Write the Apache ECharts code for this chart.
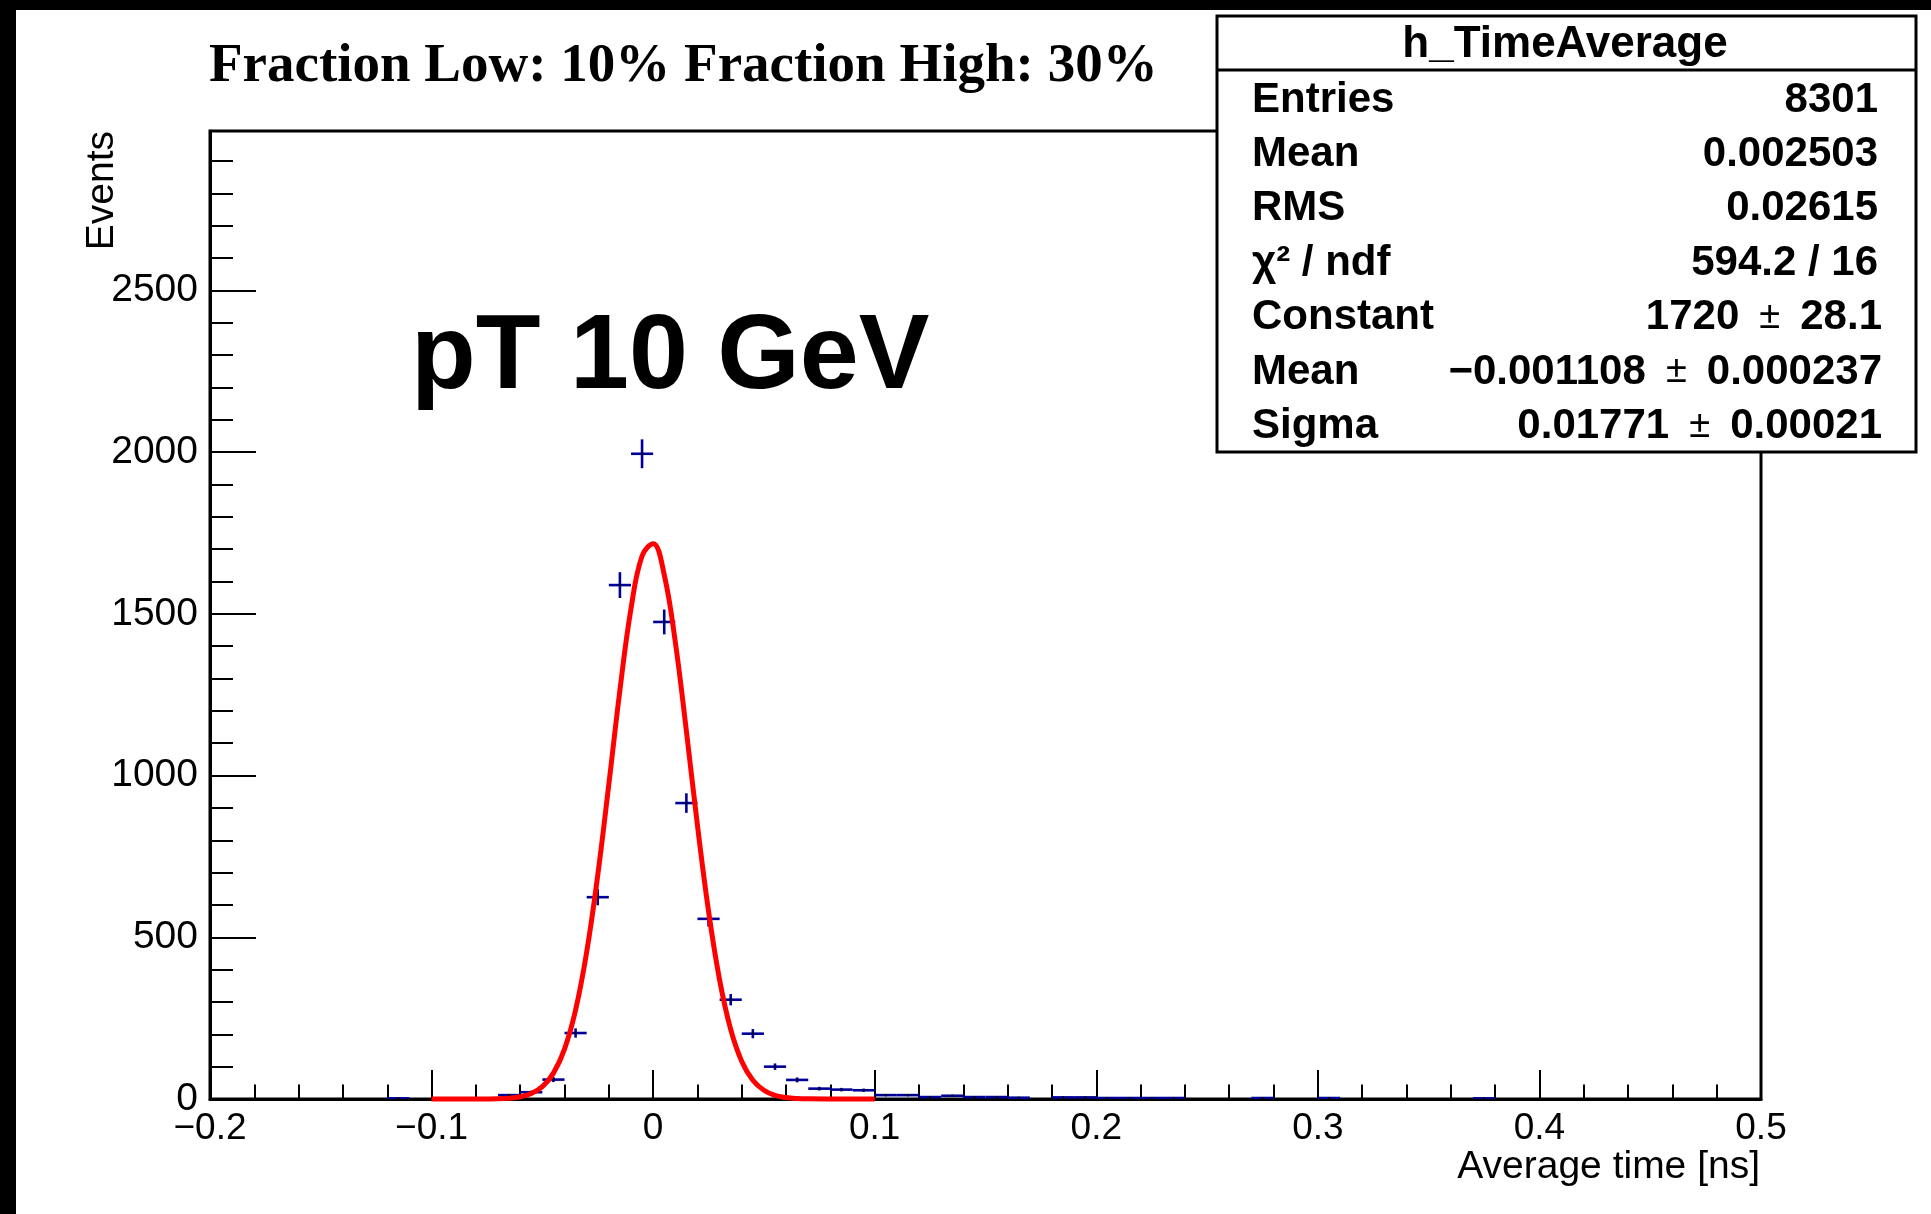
<!DOCTYPE html>
<html>
<head>
<meta charset="utf-8">
<script src="https://cdn.jsdelivr.net/npm/echarts@6/dist/echarts.min.js"></script>
<style>
html,body{margin:0;padding:0;background:#fff;}
#chart{width:1931px;height:1214px;}
</style>
</head>
<body>
<div id="chart"></div>
<script>
// ---- data ----
const binWidth = 0.01;
const binCenters = [-0.115,-0.065,-0.055,-0.045,-0.035,-0.025,-0.015,-0.005,0.005,0.015,0.025,0.035,0.045,0.055,0.065,0.075,0.085,0.095,0.105,0.115,0.125,0.135,0.145,0.155,0.165,0.185,0.195,0.205,0.215,0.225,0.235,0.275,0.305,0.375];
const binCounts  = [2,12,21,60,204,624,1589,1995,1475,915,557,307,202,100,59,32,29,27,12,12,6,10,6,6,4,5,5,3,3,3,3,3,3,2];

const fitX = [-0.1,-0.09,-0.08,-0.07,-0.065,-0.06,-0.055,-0.05,-0.045,-0.04,-0.035,-0.03,-0.025,-0.02,-0.015,-0.01,-0.005,0,0.005,0.01,0.015,0.02,0.025,0.03,0.035,0.04,0.045,0.05,0.055,0.06,0.065,0.07,0.08,0.09,0.1];
const fitY = [0,0,0.1,0.9,2.6,6.8,16.8,38,80,154,275,454,692,973,1264,1516,1679,1717,1621,1413,1138,846,581,368,215,116,58,27,11,4.5,1.6,0.5,0.05,0,0];

const xTickLabels = ['\u22120.2','\u22120.1','0','0.1','0.2','0.3','0.4','0.5'];
const yTickLabels = ['0','500','1000','1500','2000','2500'];

const titleText = 'Fraction Low: 10% Fraction High: 30%';
const bigLabel = 'pT 10 GeV';
const statsTitle = 'h_TimeAverage';
const statsNames = ['Entries','Mean','RMS','\u03c7\u00b2 / ndf','Constant','Mean','Sigma'];
const statsValues = ['8301','0.002503','0.02615','594.2 / 16','1720','\u22120.001108','0.01771'];
const statsErrors = ['','','','','28.1','0.000237','0.00021'];

// ---- chart ----
const chart = echarts.init(document.getElementById('chart'), null, {renderer:'canvas'});
const SANS = '"Liberation Sans", Arial, Helvetica, sans-serif';
const SERIF = '"Liberation Serif", "Times New Roman", serif';
const BLUE = '#000099';

const graphics = [
  {type:'rect', shape:{x:0,y:0,width:16,height:1214}, style:{fill:'#000'}, z:200},
  {type:'rect', shape:{x:0,y:0,width:1931,height:10}, style:{fill:'#000'}, z:200},
  {type:'text', x:209, y:67, style:{text:titleText, font:'bold 55px ' + SERIF, fill:'#000', align:'left', verticalAlign:'middle'}, z:100},
  {type:'text', x:411, y:359, style:{text:bigLabel, font:'bold 106px ' + SANS, fill:'#000', align:'left', verticalAlign:'middle'}, z:100},
  {type:'text', x:1760, y:1167, style:{text:'Average time [ns]', font:'39px ' + SANS, fill:'#000', align:'right', verticalAlign:'middle'}, z:100},
  {type:'text', x:102, y:131, rotation:Math.PI/2, style:{text:'Events', font:'39px ' + SANS, fill:'#000', align:'right', verticalAlign:'middle'}, z:100},
  {type:'rect', shape:{x:1217,y:16,width:699,height:436}, style:{fill:'#fff', stroke:'#000', lineWidth:3}, z:100},
  {type:'line', shape:{x1:1217,y1:70,x2:1916,y2:70}, style:{stroke:'#000', lineWidth:3}, z:101},
  {type:'text', x:1565, y:45, style:{text:statsTitle, font:'bold 44px ' + SANS, fill:'#000', align:'center', verticalAlign:'middle'}, z:101}
];
statsNames.forEach((n,i)=>{
  const y = 100 + i*54.4;
  graphics.push({type:'text', x:1252, y:y, style:{text:n, font:'bold 42px ' + SANS, fill:'#000', align:'left', verticalAlign:'middle'}, z:101});
  const txt = statsErrors[i] ? statsValues[i] + ' \u2009{pm|\u00b1}\u2009 ' + statsErrors[i] : statsValues[i];
  graphics.push({type:'text', x:statsErrors[i] ? 1882 : 1878, y:y, style:{text:txt, font:'bold 42px ' + SANS, fill:'#000', align:'right', verticalAlign:'middle',
    rich:{pm:{font:'38px ' + SANS, fill:'#000'}}}, z:101});
});

const histData = binCenters.map((c,i)=>[c, binCounts[i], Math.sqrt(binCounts[i])]);
const fitData = fitX.map((x,i)=>[x, fitY[i]]);

const option = {
  animation:false,
  backgroundColor:'#fff',
  grid:{left:210, right:170, top:131, bottom:115, show:true, borderColor:'#000', borderWidth:3, backgroundColor:'#fff', containLabel:false, outerBoundsMode:'none'},
  xAxis:{
    type:'value', min:-0.2, max:0.5, interval:0.1,
    axisLine:{show:true, onZero:false, lineStyle:{color:'#000', width:3}},
    axisTick:{show:true, inside:true, length:29, lineStyle:{color:'#000', width:2}},
    minorTick:{show:true, splitNumber:5, length:14.5, lineStyle:{color:'#000', width:2}},
    splitLine:{show:false}, minorSplitLine:{show:false},
    axisLabel:{show:true, color:'#000', fontSize:37, fontFamily:SANS, margin:11,
      formatter:(v)=>xTickLabels[Math.round((v+0.2)*10)]}
  },
  yAxis:{
    type:'value', min:0, max:2993, interval:500,
    axisLine:{show:true, onZero:false, lineStyle:{color:'#000', width:3}},
    axisTick:{show:true, inside:true, length:46, lineStyle:{color:'#000', width:2}},
    minorTick:{show:true, splitNumber:5, length:23, lineStyle:{color:'#000', width:2}},
    splitLine:{show:false}, minorSplitLine:{show:false},
    axisLabel:{show:true, color:'#000', fontSize:39, fontFamily:SANS, margin:12, showMaxLabel:false,
      formatter:(v)=>{const k=Math.round(v/500); return (Math.abs(v-k*500)<1e-6 && yTickLabels[k]!==undefined)?yTickLabels[k]:'';}}
  },
  series:[
    {
      type:'custom', data:histData, encode:{x:0,y:1}, z:3, clip:true,
      renderItem:(params, api)=>{
        const x = api.value(0), y = api.value(1), e = api.value(2);
        const l = api.coord([x-binWidth/2, y]);
        const r = api.coord([x+binWidth/2, y]);
        const t = api.coord([x, y+e]);
        const b = api.coord([x, y-e]);
        const c = api.coord([x, y]);
        return {type:'group', children:[
          {type:'line', shape:{x1:l[0],y1:l[1],x2:r[0],y2:r[1]}, style:{stroke:BLUE, lineWidth:2.6}},
          {type:'line', shape:{x1:t[0],y1:t[1],x2:b[0],y2:b[1]}, style:{stroke:BLUE, lineWidth:2.6}},
          {type:'rect', shape:{x:c[0]-1,y:c[1]-1,width:2,height:2}, style:{fill:'#000'}}
        ]};
      }
    },
    {
      type:'line', data:fitData, showSymbol:false, smooth:0.4, z:5,
      lineStyle:{color:'#ff0000', width:5}, clip:false
    }
  ],
  graphic:graphics
};
chart.setOption(option);
</script>
</body>
</html>
